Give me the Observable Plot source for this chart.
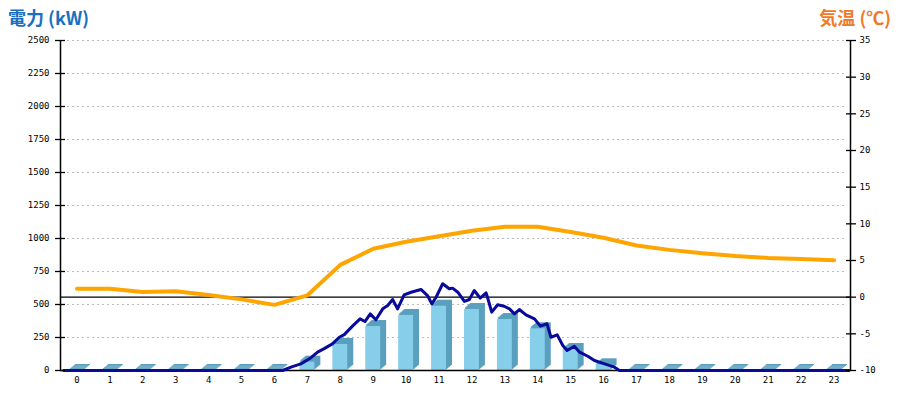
<!DOCTYPE html>
<html><head><meta charset="utf-8">
<script src="https://cdn.jsdelivr.net/npm/d3@7"></script>
<script src="https://cdn.jsdelivr.net/npm/@observablehq/plot@0.6"></script>
<style>
body{margin:0;background:#fff;}
#hdr{position:relative;height:30px;font-family:"Noto Sans CJK JP","Noto Sans",sans-serif;font-weight:bold;font-size:18px;line-height:18px;}
#l{position:absolute;left:8px;top:8px;color:#1a70bf;}
#r{position:absolute;right:9px;top:8px;color:#ee7a2a;}
</style></head><body>
<div id="hdr"><span id="l">電力 (kW)</span><span id="r">気温 (℃)</span></div>
<div id="chart"></div>
<script>
// categories (hours)
const hours = [0,1,2,3,4,5,6,7,8,9,10,11,12,13,14,15,16,17,18,19,20,21,22,23];
// bar values (kW)
const barKW = [0,0,0,0,0,0,0,63,197,333,417,487,462,386,316,159,43,0,0,0,0,0,0,0];
// hourly temperature (°C)
const temps = [1.15,1.15,0.7,0.82,0.3,-0.3,-1.05,0.25,4.4,6.6,7.55,8.3,9.05,9.6,9.6,8.9,8.1,7.05,6.45,6.0,5.62,5.35,5.2,5.05];
// power line (time in hours, kW)
const powerHours = [-0.4,6.25,6.5,6.8,7.1,7.31,7.51,7.76,7.97,8.12,8.37,8.6,8.75,8.91,9.08,9.29,9.44,9.59,9.74,9.94,10.15,10.45,10.65,10.78,10.91,11.11,11.31,11.41,11.57,11.77,11.92,12.07,12.25,12.43,12.5,12.6,12.78,12.98,13.14,13.29,13.44,13.64,13.9,14.08,14.28,14.4,14.59,14.76,14.89,15.11,15.27,15.52,15.72,16.03,16.33,16.48,23.45];
const powerKW = [0,0,25,50,95,139,166,202,252,272,336,391,371,429,384,467,492,538,467,573,593,614,568,505,555,657,619,624,593,523,538,606,548,588,530,442,498,487,467,429,462,422,391,336,354,252,270,189,152,184,139,108,76,50,25,0,0];
// tick labels
const kwTicks = [0,250,500,750,1000,1250,1500,1750,2000,2250,2500];
const tempTicks = [-10,-5,0,5,10,15,20,25,30,35];

const tMin = -10, tMax = 35, kwMax = 2500;
const toKW = t => (t - tMin) / (tMax - tMin) * kwMax;
const fromKW = v => v / kwMax * (tMax - tMin) + tMin;

const barRows = hours.map((h, i) => ({h, v: barKW[i]}));
const font = "DejaVu Sans Mono";

const depthX = 6, depthY = 5, steps = 6;
const layers = d3.range(1, steps + 1).map(k => Plot.rect(barRows, {
  x1: d => d.h - 0.5, x2: d => d.h + 0.5, y1: 0, y2: d => d.v,
  insetLeft: 9, insetRight: 9, insetTop: -1,
  dx: k * depthX / steps, dy: -k * depthY / steps,
  fill: "#5b9fbe"
}));

const chart = Plot.plot({
  width: 900, height: 370,
  marginLeft: 60, marginRight: 50, marginTop: 10, marginBottom: 30,
  style: {fontFamily: font, fontSize: "9px", background: "#fff"},
  x: {type: "linear", domain: [-0.5, 23.5]},
  y: {domain: [0, kwMax]},
  marks: [
    Plot.ruleY(kwTicks.filter(v => v > 0), {stroke: "#bbb", strokeDasharray: "2,3", insetLeft: 7, insetRight: 3}),
    ...layers,
    Plot.rect(barRows, {x1: d => d.h - 0.5, x2: d => d.h + 0.5, y1: 0, y2: d => d.v, insetLeft: 9, insetRight: 9, fill: "#87ceeb"}),
    Plot.ruleY([toKW(0)], {stroke: "#000", strokeWidth: 1.3}),
    Plot.ruleY([0], {stroke: "#000", strokeWidth: 1.5}),
    Plot.ruleX([-0.5, 23.5], {y1: 0, y2: kwMax, stroke: "#000", strokeWidth: 1.5}),
    Plot.line(hours, {x: d => d, y: (d, i) => toKW(temps[i]), stroke: "#ffa500", strokeWidth: 4}),
    Plot.line(powerHours, {x: d => d, y: (d, i) => powerKW[i], stroke: "#0a0a9a", strokeWidth: 3}),
    Plot.axisY({ticks: kwTicks, anchor: "left", tickSize: 10, dx: 5, tickFormat: () => "", stroke: "#000", strokeWidth: 1.3}),
    Plot.axisY({ticks: kwTicks, anchor: "left", tickSize: 0, tickPadding: 11, tickFormat: d => String(d), fill: "#000", fontFamily: font, fontSize: 9}),
    Plot.axisY({ticks: tempTicks.map(toKW), anchor: "right", tickSize: 10, dx: -5, tickFormat: () => "", stroke: "#000", strokeWidth: 1.3}),
    Plot.axisY({ticks: tempTicks.map(toKW), anchor: "right", tickSize: 0, tickPadding: 9, tickFormat: v => String(Math.round(fromKW(v))), fill: "#000", fontFamily: font, fontSize: 9}),
    Plot.axisX({ticks: hours, anchor: "bottom", tickSize: 0, tickPadding: 6, tickFormat: d => String(d), fill: "#000", fontFamily: font, fontSize: 9})
  ]
});
document.getElementById("chart").appendChild(chart);
</script>
</body></html>
